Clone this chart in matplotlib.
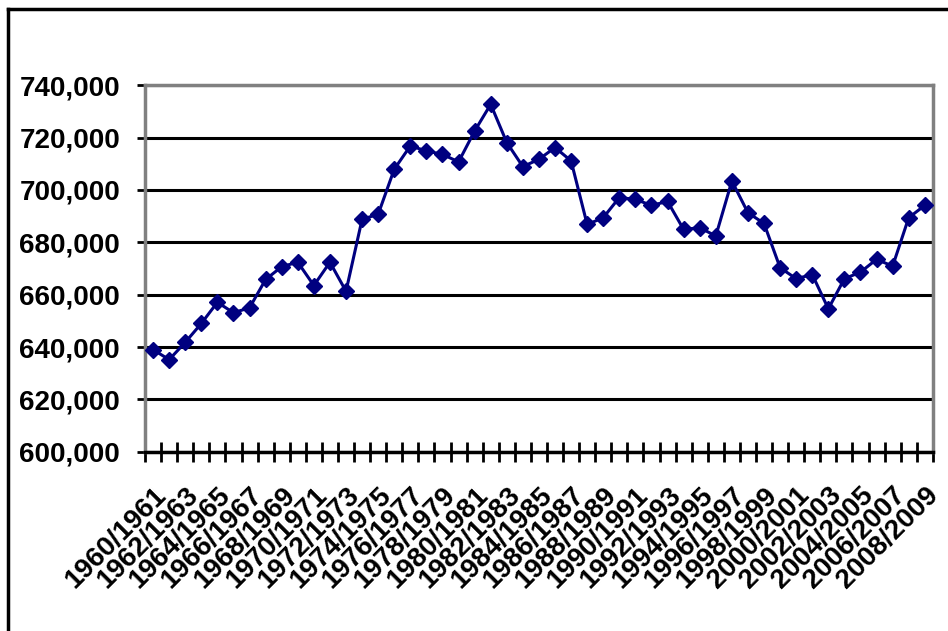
import matplotlib.pyplot as plt
import numpy as np
from matplotlib.lines import Line2D
from matplotlib.ticker import FuncFormatter

plt.rcParams['font.family'] = ['Liberation Sans', 'DejaVu Sans']

# school years and yearly totals
years = ["%d/%d" % (y, y + 1) for y in range(1960, 2009)]
totals = [639.0, 635.2, 641.8, 649.0, 657.1, 653.1, 655.0, 665.8, 670.7, 672.4,
          663.5, 672.4, 661.3, 688.8, 690.7, 707.9, 716.8, 714.9, 713.6, 710.7,
          722.5, 732.7, 718.1, 708.9, 711.7, 716.2, 711.1, 686.8, 689.4, 697.1,
          696.4, 694.1, 695.6, 684.9, 685.6, 682.4, 703.4, 691.3, 687.2, 670.3,
          666.1, 667.7, 654.6, 666.1, 668.6, 673.5, 670.9, 689.4, 694.1]
totals = [v * 1000 for v in totals]

fig = plt.figure(figsize=(9.48, 6.31), dpi=100)
ax = fig.add_axes([0.153, 0.284, 0.831, 0.581])

x = np.arange(len(years))
ax.plot(x, totals, color='#000080', linewidth=2.2, marker='D', markersize=8.5,
        markeredgecolor='#000080', zorder=3)

# y axis
ax.set_ylim(600000, 740000)
ax.set_yticks(np.arange(600000, 740001, 20000))
ax.yaxis.set_major_formatter(FuncFormatter(lambda v, p: "{:,.0f}".format(v)))
ax.yaxis.grid(True, color='black', linewidth=2.2)
ax.tick_params(axis='y', length=6, width=2, color='black', pad=12,
               labelsize=20)
for lbl in ax.get_yticklabels():
    lbl.set_fontweight('bold')

# x axis: ticks between categories, label every other year
ax.set_xlim(-0.5, len(years) - 0.5)
ax.set_xticks(x[::2])
ax.set_xticklabels(years[::2], rotation=45, ha='right', rotation_mode='anchor',
                   fontsize=20, fontweight='bold')
ax.set_xticks(np.arange(-0.5, len(years), 1), minor=True)
ax.tick_params(axis='x', which='major', length=0, pad=22)
ax.tick_params(axis='x', which='minor', direction='inout', length=14,
               width=2, color='black')

ax.set_axisbelow(True)
for side in ['left', 'top', 'right']:
    ax.spines[side].set_color('#808080')
    ax.spines[side].set_linewidth(2.5)
ax.spines['bottom'].set_color('black')
ax.spines['bottom'].set_linewidth(2.5)

# outer frame
fig.add_artist(Line2D([0.0084, 1.0], [0.9857, 0.9857], color='black', linewidth=2.5))
fig.add_artist(Line2D([0.0084, 0.0084], [0.0, 0.9857], color='black', linewidth=2.5))

fig.savefig('out.png', dpi=100)
